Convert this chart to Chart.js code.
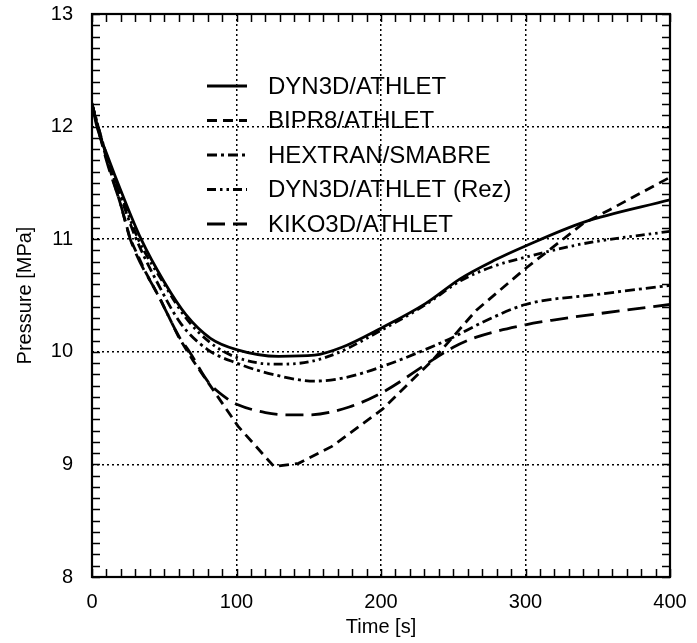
<!DOCTYPE html>
<html><head><meta charset="utf-8">
<script src="https://cdn.jsdelivr.net/npm/chart.js@4/dist/chart.umd.min.js"></script>
<style>html,body{margin:0;padding:0;background:#fff}#wrap{width:697px;height:643px}</style>
</head><body><div id="wrap"><canvas id="c" width="697" height="643"></canvas></div>
<script>
// ---- data ----
const xTickLabels = ['0', '100', '200', '300', '400'];
const yTickLabels = ['8', '9', '10', '11', '12', '13'];
const seriesNames = ['DYN3D/ATHLET', 'BIPR8/ATHLET', 'HEXTRAN/SMABRE', 'DYN3D/ATHLET (Rez)', 'KIKO3D/ATHLET'];

const dyn3dTime = [0, 3, 11, 20, 34, 50, 65, 82, 100, 129, 154, 173, 200, 231, 255, 278, 300, 340, 400];
const dyn3dPressure = [12.21, 12.02, 11.73, 11.43, 11.0, 10.62, 10.33, 10.12, 10.02, 9.96, 9.97, 10.04, 10.21, 10.43, 10.65, 10.81, 10.94, 11.15, 11.35];

const bipr8Time = [0, 5, 10, 20, 26.5, 37, 47.5, 60, 70, 85, 101, 126, 143, 166, 201, 236, 266, 300, 340, 358, 400];
const bipr8Pressure = [12.2, 11.94, 11.72, 11.3, 11.0, 10.71, 10.46, 10.13, 9.92, 9.64, 9.34, 8.98, 9.01, 9.16, 9.49, 9.93, 10.37, 10.74, 11.14, 11.26, 11.55];

const hextranTime = [0, 10, 20, 30, 45, 61.5, 80, 100, 125, 154, 175, 201, 238, 250, 270, 300, 350, 400];
const hextranPressure = [12.2, 11.74, 11.37, 11.02, 10.62, 10.25, 10.02, 9.9, 9.8, 9.74, 9.77, 9.87, 10.06, 10.13, 10.26, 10.42, 10.51, 10.59];

const rezTime = [0, 10, 20, 32, 50, 65, 82, 100, 127, 150, 170, 200, 231, 255, 278, 300, 340, 400];
const rezPressure = [12.2, 11.75, 11.4, 11.0, 10.6, 10.3, 10.08, 9.95, 9.89, 9.91, 9.99, 10.19, 10.42, 10.63, 10.76, 10.84, 10.96, 11.07];

const kikoTime = [0, 10, 20, 26.5, 47.5, 60, 68, 80, 94, 101, 120, 135, 150, 178, 201, 236, 250, 266, 300, 318, 400];
const kikoPressure = [12.2, 11.7, 11.3, 11.0, 10.46, 10.14, 9.99, 9.74, 9.58, 9.53, 9.46, 9.44, 9.44, 9.51, 9.64, 9.93, 10.04, 10.13, 10.24, 10.28, 10.42];

// ---- build chart ----
const pts = (t, p) => t.map((v, i) => ({x: v, y: p[i]}));
const FONT = "'Liberation Sans', Arial, Helvetica, sans-serif";

const styles = [
  {dash: [], tension: 'monotone'},
  {dash: [10, 6], tension: 'linear'},
  {dash: [10, 4, 3, 4], tension: 'monotone'},
  {dash: [9, 4, 2.5, 4, 2.5, 4], tension: 'monotone'},
  {dash: [18, 8], tension: 'monotone'}
];
const seriesData = [
  pts(dyn3dTime, dyn3dPressure),
  pts(bipr8Time, bipr8Pressure),
  pts(hextranTime, hextranPressure),
  pts(rezTime, rezPressure),
  pts(kikoTime, kikoPressure)
];

const datasets = seriesNames.map((name, i) => {
  const ds = {
    label: name,
    data: seriesData[i],
    borderColor: '#000',
    backgroundColor: '#000',
    borderWidth: 2.8,
    borderDash: styles[i].dash,
    pointRadius: 0,
    fill: false,
    borderCapStyle: 'butt'
  };
  if (styles[i].tension === 'monotone') ds.cubicInterpolationMode = 'monotone';
  else ds.tension = 0;
  return ds;
});

const framePlugin = {
  id: 'frame',
  afterDraw(chart) {
    const {ctx, chartArea: a, scales: {x, y}} = chart;
    ctx.save();
    // inward minor ticks on all four sides
    ctx.strokeStyle = '#000';
    ctx.lineWidth = 1.5;
    ctx.setLineDash([]);
    ctx.beginPath();
    const tl = 8;
    for (let t = x.min; t <= x.max + 1e-6; t += 10) {
      const px = Math.round(x.getPixelForValue(t)) + 0.5;
      ctx.moveTo(px, a.bottom); ctx.lineTo(px, a.bottom - tl);
      ctx.moveTo(px, a.top); ctx.lineTo(px, a.top + tl);
    }
    for (let k = 0; k <= Math.round((y.max - y.min) * 10); k++) {
      const py = Math.round(y.getPixelForValue(y.min + k / 10)) + 0.5;
      ctx.moveTo(a.left, py); ctx.lineTo(a.left + tl, py);
      ctx.moveTo(a.right, py); ctx.lineTo(a.right - tl, py);
    }
    ctx.stroke();
    // frame box
    ctx.lineWidth = 2.2;
    ctx.strokeRect(a.left, a.top, a.right - a.left, a.bottom - a.top);

    // legend inside plot
    const x0 = a.left + 115, x1 = a.left + 155, tx = a.left + 176;
    const y0 = a.top + 72, dy = 34.5;
    ctx.font = '24px ' + FONT;
    ctx.fillStyle = '#000';
    ctx.textBaseline = 'middle';
    ctx.textAlign = 'left';
    chart.data.datasets.forEach((ds, i) => {
      const yy = y0 + i * dy;
      ctx.lineWidth = ds.borderWidth;
      ctx.setLineDash(ds.borderDash);
      ctx.beginPath();
      ctx.moveTo(x0, yy); ctx.lineTo(x1, yy);
      ctx.stroke();
      ctx.setLineDash([]);
      ctx.fillText(ds.label, tx, yy + 1);
    });
    ctx.restore();
  }
};

const gridColor = (edgeMin, edgeMax) => (c) =>
  (c.tick && (Math.abs(c.tick.value - edgeMin) < 1e-6 || Math.abs(c.tick.value - edgeMax) < 1e-6)) ? 'rgba(0,0,0,0)' : '#000';

new Chart(document.getElementById('c'), {
  type: 'line',
  data: {datasets},
  options: {
    responsive: false,
    animation: false,
    layout: {padding: {top: 14, right: 27, left: 0, bottom: 0}},
    plugins: {legend: {display: false}, tooltip: {enabled: false}},
    scales: {
      x: {
        type: 'linear',
        min: 0, max: 400,
        afterFit: (s) => { s.height = 66; s.paddingLeft = 0; s.paddingRight = 0; },
        ticks: {
          stepSize: 100,
          padding: 13,
          color: '#000',
          font: {family: FONT, size: 20},
          maxRotation: 0,
          callback: (v, i) => xTickLabels[i]
        },
        grid: {color: gridColor(0, 400), lineWidth: 1.5, drawTicks: false},
        border: {display: false, dash: [2, 3]},
        title: {display: true, text: 'Time [s]', color: '#000', font: {family: FONT, size: 20}, padding: {top: 0, bottom: 4}}
      },
      y: {
        type: 'linear',
        min: 8, max: 13,
        afterFit: (s) => { s.width = 92; s.paddingTop = 0; s.paddingBottom = 0; },
        ticks: {
          stepSize: 1,
          padding: 19,
          color: '#000',
          font: {family: FONT, size: 20},
          callback: (v, i) => yTickLabels[i]
        },
        grid: {color: gridColor(8, 13), lineWidth: 1.5, drawTicks: false},
        border: {display: false, dash: [2, 3]},
        title: {display: true, text: 'Pressure [MPa]', color: '#000', font: {family: FONT, size: 20}, padding: {top: 13, bottom: 0}}
      }
    }
  },
  plugins: [framePlugin]
});
</script>
</body></html>
